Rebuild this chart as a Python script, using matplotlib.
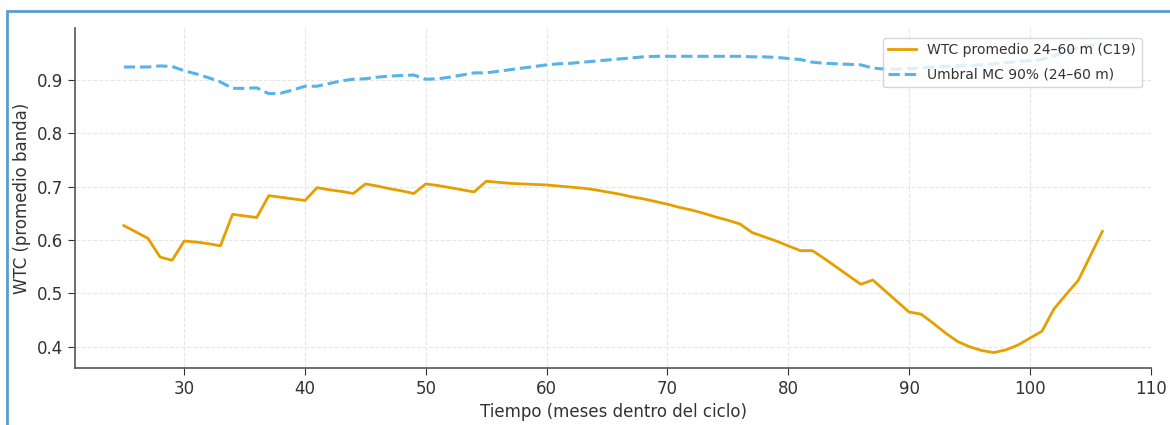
import numpy as np
import matplotlib.pyplot as plt
from matplotlib.patches import Rectangle

# meses dentro del ciclo
months = np.arange(25, 107)

# WTC promedio banda 24-60 m (C19)
wtc_mean = [
    0.627, 0.615, 0.603, 0.568, 0.562, 0.598, 0.596, 0.593, 0.589, 0.648,  # 25-34
    0.645, 0.642, 0.683, 0.680, 0.677, 0.674, 0.698, 0.694, 0.691, 0.687,  # 35-44
    0.705, 0.701, 0.696, 0.692, 0.687, 0.705, 0.702, 0.698, 0.694, 0.690,  # 45-54
    0.710, 0.708, 0.706, 0.705, 0.704, 0.703, 0.701, 0.699, 0.697, 0.694,  # 55-64
    0.690, 0.686, 0.681, 0.677, 0.672, 0.667, 0.661, 0.656, 0.650, 0.643,  # 65-74
    0.637, 0.630, 0.614, 0.606, 0.598, 0.589, 0.580, 0.580, 0.565, 0.549,  # 75-84
    0.533, 0.517, 0.525, 0.505, 0.485, 0.465, 0.461, 0.444, 0.426, 0.410,  # 85-94
    0.400, 0.393, 0.389, 0.394, 0.403, 0.416, 0.429, 0.471, 0.498, 0.524,  # 95-104
    0.570, 0.616,                                                          # 105-106
]

# Umbral Monte Carlo 90%
mc_threshold = [
    0.924, 0.924, 0.924, 0.926, 0.925, 0.917, 0.911, 0.904, 0.896, 0.884,  # 25-34
    0.884, 0.885, 0.874, 0.875, 0.881, 0.888, 0.888, 0.893, 0.898, 0.901,  # 35-44
    0.902, 0.905, 0.907, 0.908, 0.909, 0.901, 0.902, 0.905, 0.909, 0.913,  # 45-54
    0.913, 0.916, 0.919, 0.922, 0.925, 0.928, 0.930, 0.931, 0.933, 0.935,  # 55-64
    0.937, 0.939, 0.941, 0.943, 0.944, 0.944, 0.944, 0.944, 0.944, 0.944,  # 65-74
    0.944, 0.944, 0.943, 0.943, 0.942, 0.940, 0.938, 0.933, 0.931, 0.930,  # 75-84
    0.929, 0.928, 0.922, 0.920, 0.920, 0.921, 0.922, 0.924, 0.925, 0.926,  # 85-94
    0.927, 0.928, 0.930, 0.932, 0.934, 0.936, 0.938, 0.945, 0.953, 0.960,  # 95-104
    0.965, 0.968,                                                          # 105-106
]

fig = plt.figure(figsize=(11.7, 4.25), dpi=100)
ax = fig.add_axes([0.064, 0.134, 0.92, 0.80])

ax.plot(months, wtc_mean, color='#E69F00', linewidth=2,
        label='WTC promedio 24–60 m (C19)')
ax.plot(months, mc_threshold, color='#56B4E9', linewidth=2.2,
        linestyle='--', label='Umbral MC 90% (24–60 m)')

ax.grid(True, linestyle='--', color='#e6e6e6', linewidth=0.8)
ax.set_axisbelow(True)
for side in ['top', 'right']:
    ax.spines[side].set_visible(False)
for side in ['left', 'bottom']:
    ax.spines[side].set_color('#555555')
    ax.spines[side].set_linewidth(1.2)
ax.tick_params(colors='#333333', labelsize=12, length=5)

ax.set_xlabel('Tiempo (meses dentro del ciclo)', fontsize=12, color='#333333')
ax.set_ylabel('WTC (promedio banda)', fontsize=12, color='#333333')

ax.legend(loc='upper right', fontsize=10, framealpha=0.8, labelspacing=0.75,
          borderaxespad=0.7, edgecolor='#cccccc', labelcolor='#333333')

# marco azul de la captura
fig.patches.append(Rectangle((0.006, -0.05), 1.1, 1.024, transform=fig.transFigure,
                             fill=False, edgecolor='#5b9bd5', linewidth=2))

fig.savefig('out.png', dpi=100)
